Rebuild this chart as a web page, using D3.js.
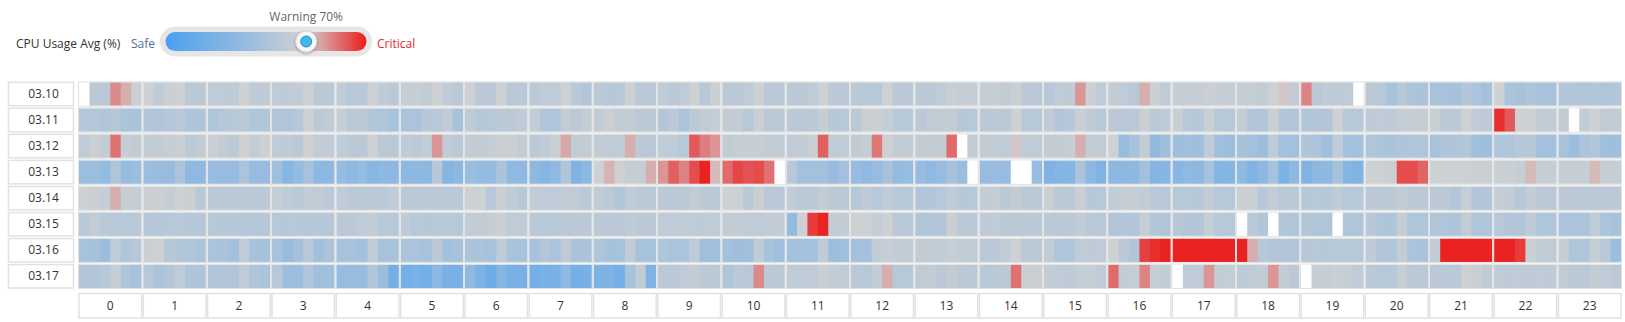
<!DOCTYPE html>
<html>
<head>
<meta charset="utf-8">
<script src="https://cdn.jsdelivr.net/npm/d3@7"></script>
<style>
  body { margin: 0; background: #fff; }
  svg text { font-family: "Open Sans", "Noto Sans", sans-serif; }
</style>
</head>
<body>
<svg id="chart" width="1625" height="322"></svg>
<script>
// ---------------- DATA ----------------
const dates = ["03.10", "03.11", "03.12", "03.13", "03.14", "03.15", "03.16", "03.17"];
const hourLabels = ["0","1","2","3","4","5","6","7","8","9","10","11","12","13","14","15","16","17","18","19","20","21","22","23"];
const slots = [0, 1, 2, 3, 4, 5]; // six 10-minute slots per hour
const legendTitle = "CPU Usage Avg (%)";
const safeLabel = "Safe";
const criticalLabel = "Critical";
const warningValue = 70;

// CPU usage average (%) per 10-minute slot, 24 hours x 6 slots; null = no data
const d0310 = [
  null,58,58,82,76,66,  68,60,66,68,58,58,  60,60,60,68,60,60,  60,60,62,68,58,58,
  60,56,58,68,60,58,  64,64,62,68,60,58,  68,58,58,68,56,58,  58,60,60,68,58,54,
  58,56,56,68,58,58,  60,58,60,68,56,66,  58,58,60,68,58,58,  58,58,60,68,58,58,
  58,56,56,68,58,58,  58,58,60,66,64,64,  64,64,62,66,58,58,  56,60,60,80,66,60,
  62,60,56,76,66,60,  64,64,64,66,64,64,  64,64,62,68,72,62,  83,58,60,60,60,null,
  58,56,48,56,50,50,  48,48,48,54,50,46,  68,50,48,52,48,48,  54,54,52,54,52,54
];
const d0311 = [
  55,55,53,55,50,50,  54,54,55,57,52,52,  52,55,56,57,53,53,  54,52,55,68,58,60,
  64,58,58,54,52,48,  50,50,56,56,60,48,  60,56,56,58,58,60,  62,52,52,62,58,62,
  62,66,62,62,58,58,  54,58,50,58,62,64,  62,62,56,66,58,58,  58,58,58,64,56,56,
  58,66,66,64,56,56,  58,60,62,62,56,56,  58,58,58,68,56,56,  60,54,56,66,60,56,
  58,56,58,66,58,60,  66,56,56,66,56,56,  62,54,54,66,54,54,  54,54,54,68,56,56,
  60,60,60,64,64,64,  66,58,58,68,60,60,  97,90,68,68,62,62,  62,null,62,68,60,62
];
const d0312 = [
  60,66,62,86,64,62,  62,62,64,66,58,62,  66,62,58,68,62,68,  60,60,58,68,62,60,
  60,58,58,68,58,58,  60,58,62,80,60,58,  62,62,64,66,66,62,  58,60,66,77,62,62,
  62,60,62,76,58,58,  60,60,56,90,84,80,  62,64,64,64,62,62,  60,62,66,89,60,62,
  62,64,85,68,62,62,  62,62,62,87,null,62,  62,62,60,72,60,60,  62,62,64,76,62,62,
  68,40,48,62,36,44,  44,44,44,60,44,42,  48,46,42,60,46,46,  52,50,44,60,46,46,
  52,50,50,52,52,52,  48,52,52,54,44,44,  52,52,56,56,46,46,  48,42,50,54,44,44
];
const d0313 = [
  42,42,38,52,40,42,  42,40,40,50,36,36,  40,40,40,50,40,40,  44,32,38,48,34,34,
  38,34,38,32,34,34,  34,36,34,55,30,34,  42,38,38,50,36,36,  36,32,36,52,28,34,
  68,75,68,64,64,76,  80,89,83,92,99,74,  87,93,91,92,86,null,  56,46,46,46,40,46,
  40,36,40,48,38,40,  40,36,40,48,42,null,  40,40,40,null,null,40,  28,30,30,50,34,28,
  34,34,36,46,30,32,  32,36,34,48,30,30,  36,28,34,48,26,36,  28,34,36,48,30,28,
  68,68,66,92,92,88,  68,68,68,68,66,66,  66,66,64,74,64,64,  64,64,64,74,64,64
];
const d0314 = [
  68,66,64,76,64,64,  66,66,64,68,66,58,  58,58,58,58,58,58,  64,60,58,62,60,58,
  60,58,58,58,58,60,  58,58,58,58,58,58,  68,68,56,66,60,56,  62,60,60,62,60,58,
  60,58,54,60,58,58,  58,58,58,62,58,58,  68,68,58,66,58,56,  60,58,58,62,58,58,
  56,60,56,60,56,56,  54,54,56,60,56,56,  62,64,58,62,58,58,  66,58,58,66,56,56,
  62,64,64,62,58,56,  56,56,56,62,56,56,  66,66,56,62,58,58,  56,56,56,60,56,56,
  58,58,58,62,58,58,  58,58,54,64,54,54,  64,62,56,62,58,58,  58,58,58,58,58,58
];
const d0315 = [
  56,62,56,56,56,56,  55,55,56,56,55,55,  56,56,56,55,55,55,  56,56,56,55,56,55,
  58,58,60,62,56,56,  60,56,56,56,56,56,  62,62,64,66,60,60,  58,56,56,58,58,58,
  58,58,58,60,58,58,  60,60,60,60,60,60,  62,62,60,60,62,62,  38,68,95,99,62,62,
  68,68,64,68,58,56,  54,54,54,66,58,58,  60,60,58,58,58,58,  58,58,58,62,58,56,
  54,54,54,64,54,52,  56,54,54,64,56,56,  null,56,54,null,54,52,  54,52,52,null,52,52,
  56,52,52,64,52,52,  52,52,52,62,52,52,  56,54,54,60,52,52,  50,50,50,60,50,48
];
const d0316 = [
  48,48,42,60,52,56,  66,68,56,54,52,50,  50,50,46,60,48,48,  48,40,46,56,44,50,
  48,48,46,60,48,48,  50,50,48,58,46,48,  50,50,48,60,48,48,  48,54,50,60,50,50,
  52,48,48,62,48,48,  52,50,50,60,44,44,  46,44,44,60,48,44,  46,46,46,60,42,44,
  46,46,62,64,62,62,  62,62,62,64,62,62,  58,58,62,68,58,58,  62,52,52,60,60,60,
  68,58,54,94,97,99,  99,99,99,99,99,99,  99,76,56,54,54,54,  56,56,56,56,56,56,
  60,54,54,62,50,50,  62,99,99,99,99,99,  99,99,95,66,62,60,  64,52,52,64,56,42
];
const d0317 = [
  54,54,56,64,52,48,  56,50,54,60,52,52,  54,54,54,60,52,50,  56,42,42,52,44,44,
  40,40,40,54,42,22,  22,24,22,34,24,24,  36,26,18,30,24,24,  22,24,24,34,22,24,
  26,26,22,48,62,28,  58,58,60,62,58,58,  52,58,56,82,58,58,  60,60,60,66,62,60,
  58,56,62,76,56,56,  60,62,58,62,58,58,  56,58,58,86,66,66,  62,60,60,64,64,60,
  87,62,64,83,64,62,  null,60,60,80,62,64,  60,60,62,80,62,58,  null,64,64,66,64,60,
  58,56,56,64,58,58,  58,58,56,68,66,60,  60,60,60,60,60,60,  60,58,58,62,60,58
];
const seriesByDate = [d0310, d0311, d0312, d0313, d0314, d0315, d0316, d0317];

// ---------------- CHART ----------------
const svg = d3.select("#chart");
const borderColor = "#e2e2e2";

const color = d3.scaleLinear()
  .domain([0, warningValue, 100])
  .range(["#4a9ff0", "#d2d2d2", "#ec1c1c"])
  .interpolate(d3.interpolateRgb)
  .clamp(true);

const x = d3.scaleBand().domain(hourLabels).range([79, 1621]).paddingInner(0.027);
const sub = d3.scaleBand().domain(slots).range([0, x.bandwidth()]);
const y = d3.scaleBand().domain(dates).range([82.3, 288]).paddingInner(0.1);

// flatten cells
const cells = [];
dates.forEach((d, di) => {
  seriesByDate[di].forEach((v, i) => {
    cells.push({ date: d, hour: hourLabels[Math.floor(i / 6)], slot: i % 6, value: v });
  });
});

svg.append("g").selectAll("rect")
  .data(cells)
  .join("rect")
  .attr("x", c => x(c.hour) + sub(c.slot))
  .attr("y", c => y(c.date))
  .attr("width", c => sub.bandwidth() + (c.slot < 5 ? 1 : 0))
  .attr("height", y.bandwidth())
  .attr("fill", c => c.value == null ? "#ffffff" : color(c.value));

// hour-block outlines
const blocks = [];
dates.forEach(d => hourLabels.forEach(h => blocks.push({ date: d, hour: h })));
svg.append("g").selectAll("rect")
  .data(blocks)
  .join("rect")
  .attr("x", b => x(b.hour) - 0.5)
  .attr("y", b => y(b.date) - 0.5)
  .attr("width", x.bandwidth() + 1)
  .attr("height", y.bandwidth() + 1)
  .attr("fill", "none")
  .attr("stroke", borderColor)
  .attr("stroke-width", 1);

// row labels
const rowG = svg.append("g").selectAll("g")
  .data(dates)
  .join("g")
  .attr("transform", d => `translate(8.5,${y(d)})`);
rowG.append("rect")
  .attr("width", 65)
  .attr("height", y.bandwidth())
  .attr("fill", "#fff")
  .attr("stroke", borderColor)
  .attr("stroke-width", 1.5);
rowG.append("text")
  .attr("x", 35)
  .attr("y", y.bandwidth() / 2)
  .attr("dy", "0.35em")
  .attr("text-anchor", "middle")
  .attr("font-size", 12)
  .attr("fill", "#333")
  .text(d => d);

// hour axis labels
const colG = svg.append("g").selectAll("g")
  .data(hourLabels)
  .join("g")
  .attr("transform", h => `translate(${x(h)},293.5)`);
colG.append("rect")
  .attr("width", x.bandwidth())
  .attr("height", 24.5)
  .attr("fill", "#fff")
  .attr("stroke", borderColor)
  .attr("stroke-width", 1.5);
colG.append("text")
  .attr("x", x.bandwidth() / 2)
  .attr("y", 12.5)
  .attr("dy", "0.35em")
  .attr("text-anchor", "middle")
  .attr("font-size", 12)
  .attr("fill", "#333")
  .text(h => h);

// ---------------- LEGEND ----------------
const leg = svg.append("g");
const legendScale = d3.scaleLinear().domain([0, 100]).range([165.5, 366.5]);
const defs = svg.append("defs");
const grad = defs.append("linearGradient").attr("id", "cpuGrad")
  .attr("x1", "0%").attr("x2", "100%").attr("y1", "0%").attr("y2", "0%");
grad.selectAll("stop")
  .data(d3.range(0, 101, 5))
  .join("stop")
  .attr("offset", v => v + "%")
  .attr("stop-color", v => color(v));

const shadow = defs.append("filter").attr("id", "knobShadow")
  .attr("x", "-50%").attr("y", "-50%").attr("width", "200%").attr("height", "200%");
shadow.append("feDropShadow").attr("dx", 0).attr("dy", 1).attr("stdDeviation", 1.5)
  .attr("flood-color", "#000").attr("flood-opacity", 0.35);

leg.append("text").attr("x", 16).attr("y", 43.5).attr("dy", "0.35em")
  .attr("font-size", 12).attr("fill", "#333").text(legendTitle);
leg.append("text").attr("x", 131).attr("y", 43.5).attr("dy", "0.35em")
  .attr("font-size", 12).attr("fill", "#4f6e9c").text(safeLabel);
leg.append("rect").attr("x", 160).attr("y", 26.5).attr("width", 212).attr("height", 30)
  .attr("rx", 15).attr("fill", "#e6e6e6");
leg.append("rect").attr("x", legendScale(0)).attr("y", 32).attr("width", legendScale(100) - legendScale(0))
  .attr("height", 19).attr("rx", 9.5).attr("fill", "url(#cpuGrad)");
const kx = legendScale(warningValue);
leg.append("circle").attr("cx", kx).attr("cy", 41.5).attr("r", 10.5)
  .attr("fill", "#f7f7f7").attr("stroke", "#d8d8d8").attr("filter", "url(#knobShadow)");
leg.append("circle").attr("cx", kx).attr("cy", 41.5).attr("r", 5.5)
  .attr("fill", "#3cb8ec").attr("stroke", "#2a8fc0").attr("stroke-width", 1);
leg.append("text").attr("x", kx).attr("y", 17).attr("dy", "0.35em")
  .attr("text-anchor", "middle").attr("font-size", 12).attr("fill", "#666")
  .text(`Warning ${warningValue}%`);
leg.append("text").attr("x", 377).attr("y", 43.5).attr("dy", "0.35em")
  .attr("font-size", 12).attr("fill", "#e8262a").text(criticalLabel);
</script>
</body>
</html>
